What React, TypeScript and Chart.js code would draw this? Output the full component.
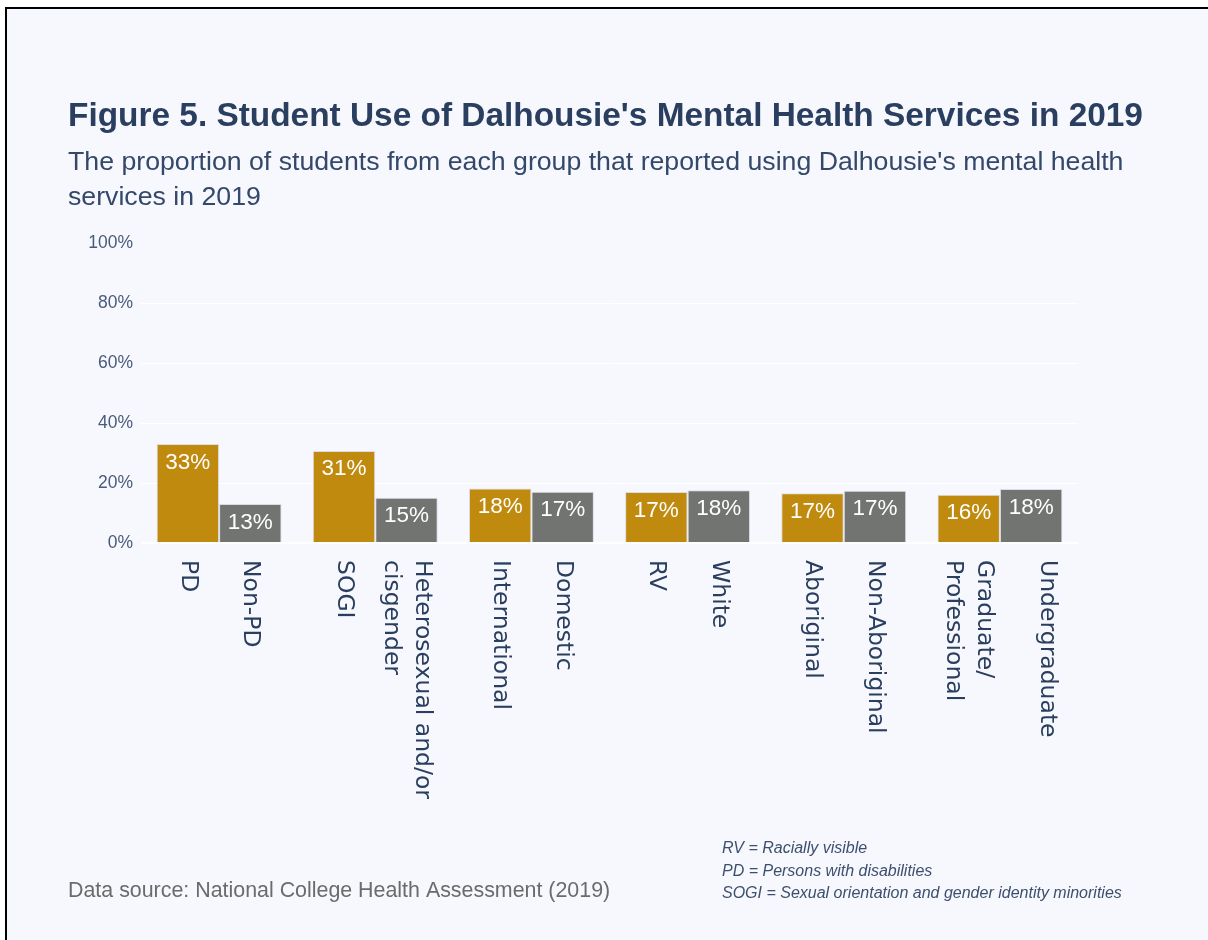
import React, { useEffect, useRef } from "react";
import { Chart, registerables } from "chart.js";

Chart.register(...registerables);

// Comparison groups (one per pair of bars)
const groups = [
  "Disability",
  "Sexual orientation and gender identity",
  "Student origin",
  "Race",
  "Indigenous identity",
  "Level of study",
];

// Bar captions, one list of lines per bar (first bar / second bar of each pair)
const firstLabels: string[][] = [
  ["PD"],
  ["SOGI"],
  ["International"],
  ["RV"],
  ["Aboriginal"],
  ["Graduate/", "Professional"],
];
const secondLabels: string[][] = [
  ["Non-PD"],
  ["Heterosexual and/or", "cisgender"],
  ["Domestic"],
  ["White"],
  ["Non-Aboriginal"],
  ["Undergraduate", ""],
];

// Percent of students reporting use of mental health services
const firstValues = [33.0, 30.7, 18.2, 17.0, 16.6, 16.1];
const secondValues = [13.0, 15.1, 17.1, 17.6, 17.4, 18.0];

const yTicks = [0, 20, 40, 60, 80, 100];

const titleText = "Figure 5. Student Use of Dalhousie's Mental Health Services in 2019";
const subtitleLines = [
  "The proportion of students from each group that reported using Dalhousie's mental health",
  "services in 2019",
];
const sourceText = "Data source: National College Health Assessment (2019)";
const abbreviations = [
  "RV = Racially visible",
  "PD = Persons with disabilities",
  "SOGI = Sexual orientation and gender identity minorities",
];

const GOLD = "#bf8a0e";
const GREY = "#727472";
const INK = "#2a3f5f";
const SANS = "'Liberation Sans', Arial, sans-serif";

const framePlugin = {
  id: "frame",
  beforeDraw(chart: any) {
    const { ctx, width, height } = chart;
    ctx.save();
    ctx.fillStyle = "#ffffff";
    ctx.fillRect(0, 0, width, height);
    ctx.fillStyle = "#f7f8fd";
    ctx.fillRect(7, 9, width - 7, height - 9);
    ctx.fillStyle = "#000000";
    ctx.fillRect(5, 7, 2, height - 7);
    ctx.fillRect(5, 7, width - 5, 2);
    ctx.restore();
  },
};

const textPlugin = {
  id: "texts",
  afterDraw(chart: any) {
    const { ctx } = chart;
    ctx.save();
    ctx.textAlign = "left";
    ctx.textBaseline = "alphabetic";
    ctx.fillStyle = INK;
    ctx.font = `bold 33.4px ${SANS}`;
    ctx.fillText(titleText, 68, 126);
    ctx.font = `26.7px ${SANS}`;
    ctx.fillStyle = "#33486a";
    subtitleLines.forEach((line, i) => ctx.fillText(line, 68, 170 + i * 35));
    ctx.font = `21.4px ${SANS}`;
    ctx.fillStyle = "#6b6b6b";
    ctx.fillText(sourceText, 68, 897);
    ctx.font = `italic 16px ${SANS}`;
    ctx.fillStyle = "#3d4f6e";
    abbreviations.forEach((line, i) => ctx.fillText(line, 722, 853 + i * 22.7));
    ctx.restore();
  },
};

const barTextPlugin = {
  id: "barTexts",
  afterDatasetsDraw(chart: any) {
    const { ctx } = chart;
    ctx.save();
    ctx.fillStyle = "#ffffff";
    ctx.font = `22.5px ${SANS}`;
    ctx.textAlign = "center";
    ctx.textBaseline = "alphabetic";
    chart.data.datasets.forEach((ds: any, di: number) => {
      const meta = chart.getDatasetMeta(di);
      meta.data.forEach((bar: any, i: number) => {
        const v = ds.data[i] as number;
        ctx.fillText(`${Math.round(v)}%`, bar.x, bar.y + 24.5);
      });
    });
    ctx.restore();
  },
};

const captionPlugin = {
  id: "captions",
  afterDraw(chart: any) {
    const { ctx } = chart;
    const captionSets = [firstLabels, secondLabels];
    const top = chart.chartArea.bottom + 17;
    const lineHeight = 31.5;
    ctx.save();
    ctx.fillStyle = INK;
    ctx.font = "23.5px 'DejaVu Sans', Verdana, sans-serif";
    ctx.textAlign = "left";
    ctx.textBaseline = "middle";
    captionSets.forEach((set, di) => {
      const meta = chart.getDatasetMeta(di);
      meta.data.forEach((bar: any, i: number) => {
        const lines = set[i];
        ctx.save();
        ctx.translate(bar.x, top);
        ctx.rotate(Math.PI / 2);
        lines.forEach((line, k) => {
          const offset = (k - (lines.length - 1) / 2) * lineHeight;
          ctx.fillText(line, 0, offset);
        });
        ctx.restore();
      });
    });
    ctx.restore();
  },
};

export default function App() {
  const canvasRef = useRef<HTMLCanvasElement | null>(null);

  useEffect(() => {
    const canvas = canvasRef.current;
    if (!canvas) return;
    const chart = new Chart(canvas, {
      type: "bar",
      data: {
        labels: groups,
        datasets: [
          {
            data: firstValues,
            backgroundColor: GOLD,
            borderColor: "#dcdce4",
            borderWidth: 1,
            categoryPercentage: 0.8,
            barPercentage: 1,
          },
          {
            data: secondValues,
            backgroundColor: GREY,
            borderColor: "#dcdce4",
            borderWidth: 1,
            categoryPercentage: 0.8,
            barPercentage: 1,
          },
        ],
      },
      options: {
        responsive: false,
        animation: false,
        devicePixelRatio: 1,
        layout: { padding: { left: 61, right: 130, top: 243, bottom: 397 } },
        plugins: {
          legend: { display: false },
          tooltip: { enabled: false },
          title: { display: false },
        },
        scales: {
          x: {
            grid: { display: false },
            border: { display: false },
            ticks: { display: false },
            afterFit: (s: any) => {
              s.height = 0;
            },
          },
          y: {
            min: 0,
            max: 100,
            afterBuildTicks: (s: any) => {
              s.ticks = yTicks.map((v) => ({ value: v }));
            },
            afterFit: (s: any) => {
              s.width = 80;
            },
            border: { display: false },
            grid: {
              drawTicks: false,
              color: (c: any) => (c.tick && c.tick.value === 100 ? "rgba(0,0,0,0)" : "#ffffff"),
              lineWidth: (c: any) => (c.tick && c.tick.value === 0 ? 2 : 1),
            },
            ticks: {
              padding: 8,
              color: "#4a5b7a",
              font: { family: SANS, size: 17.5 },
              callback: (v: any) => `${v}%`,
            },
          },
        },
      },
      plugins: [framePlugin, barTextPlugin, captionPlugin, textPlugin],
    });
    return () => chart.destroy();
  }, []);

  return (
    <canvas
      ref={canvasRef}
      width={1208}
      height={940}
      style={{ position: "fixed", left: 0, top: 0, width: 1208, height: 940 }}
    />
  );
}
